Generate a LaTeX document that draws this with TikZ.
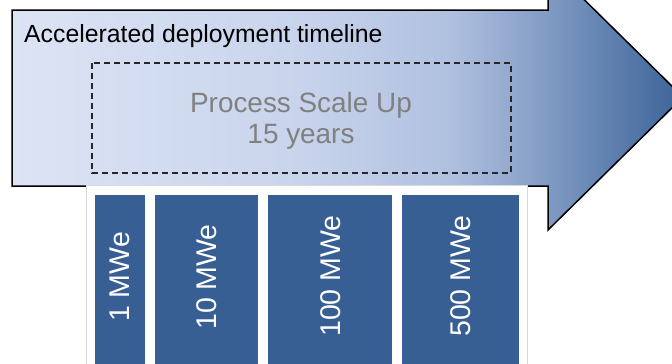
\documentclass[tikz,border=0pt]{standalone}
\usepackage{fontspec}
\setmainfont{Liberation Sans}
\definecolor{cA}{RGB}{221,228,244}
\definecolor{cB}{RGB}{200,212,236}
\definecolor{cC}{RGB}{176,192,224}
\definecolor{cD}{RGB}{138,162,200}
\definecolor{cE}{RGB}{100,132,178}
\definecolor{cF}{RGB}{58,96,150}
\definecolor{barblue}{RGB}{56,95,147}
\definecolor{greytext}{RGB}{128,128,128}
\tikzset{
  barbox/.style={fill=barblue, draw=none},
  barlabel/.style={text=white, rotate=90, font=\fontsize{28.5}{30}\selectfont, inner sep=0pt},
}
\begin{document}
\begin{tikzpicture}[x=1pt,y=-1pt]
\useasboundingbox (0,0) rectangle (672,364);
% arrow with gradient
\begin{scope}
  \clip (12,10) -- (548,10) -- (548,-36) -- (683,97) -- (548,230) -- (548,186) -- (12,186) -- cycle;
  \shade[left color=cA, right color=cB] (11,-40) rectangle (301,240);
  \shade[left color=cB, right color=cC] (300,-40) rectangle (451,240);
  \shade[left color=cC, right color=cD] (450,-40) rectangle (531,240);
  \shade[left color=cD, right color=cE] (530,-40) rectangle (601,240);
  \shade[left color=cE, right color=cF] (600,-40) rectangle (690,240);
\end{scope}
\draw[line width=1.5pt, line join=miter] (12,10) -- (548,10) -- (548,-36) -- (683,97) -- (548,230) -- (548,186) -- (12,186) -- cycle;
% title
\node[anchor=base west, inner sep=0pt, font=\fontsize{24.8}{28}\selectfont] (title) at (24,42) {Accelerated deployment timeline};
% dashed box
\draw[line width=1.3pt, draw=black!85, dash pattern=on 6pt off 4pt] (92,63) rectangle (511,173);
\node[align=center, text=greytext, inner sep=0pt, font=\fontsize{27.9}{31}\selectfont] (scale) at (301,120.5) {Process Scale Up\\15 years};
% panel
\draw[fill=white, draw=black!15, line width=0.6pt] (86,185.3) rectangle (527,372);
% bars
\fill[barbox] (95,195) rectangle (145,370);
\fill[barbox] (155,195) rectangle (258,370);
\fill[barbox] (268,195) rectangle (392,370);
\fill[barbox] (402,195) rectangle (519,370);
\node[barlabel] (b1) at (120,277) {1 MWe};
\node[barlabel] (b2) at (206.5,277) {10 MWe};
\node[barlabel] (b3) at (331,276) {100 MWe};
\node[barlabel] (b4) at (461,276) {500 MWe};
\end{tikzpicture}
\end{document}
